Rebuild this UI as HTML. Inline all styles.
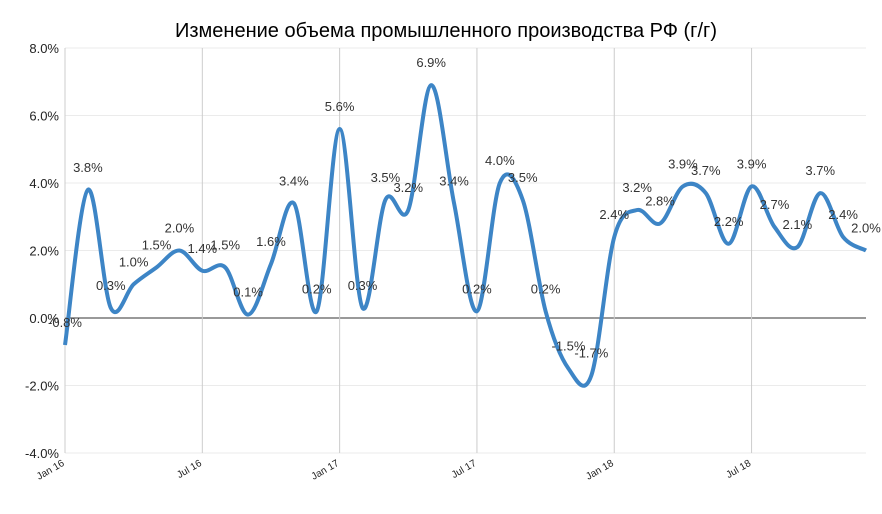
<!DOCTYPE html>
<html><head><meta charset="utf-8"><style>
body{margin:0;background:#fff;}
svg{display:block;font-family:"Liberation Sans",Arial,sans-serif;}
</style></head><body>
<svg id="chart" width="882" height="514" viewBox="0 0 882 514">
<text x="446" y="37" text-anchor="middle" font-size="20" fill="#000">Изменение объема промышленного производства РФ (г/г)</text>
<g id="grid"></g><g id="axes"></g><g id="series"></g><g id="labels"></g>
</svg>
<script>
const months = ["Jan 16","Feb 16","Mar 16","Apr 16","May 16","Jun 16","Jul 16","Aug 16","Sep 16","Oct 16","Nov 16","Dec 16","Jan 17","Feb 17","Mar 17","Apr 17","May 17","Jun 17","Jul 17","Aug 17","Sep 17","Oct 17","Nov 17","Dec 17","Jan 18","Feb 18","Mar 18","Apr 18","May 18","Jun 18","Jul 18","Aug 18","Sep 18","Oct 18","Nov 18","Dec 18"];
const values = [-0.8,3.8,0.3,1.0,1.5,2.0,1.4,1.5,0.1,1.6,3.4,0.2,5.6,0.3,3.5,3.2,6.9,3.4,0.2,4.0,3.5,0.2,-1.5,-1.7,2.4,3.2,2.8,3.9,3.7,2.2,3.9,2.7,2.1,3.7,2.4,2.0];
const yTicks = [-4,-2,0,2,4,6,8];
const xTickLabels = ["Jan 16","Jul 16","Jan 17","Jul 17","Jan 18","Jul 18"];

const NS="http://www.w3.org/2000/svg";
const x0=65,x1=866,yTop=48,yBot=453,yMin=-4,yMax=8;
const xs=i=>x0+(x1-x0)*i/(months.length-1);
const ys=v=>yBot-(v-yMin)/(yMax-yMin)*(yBot-yTop);
function mk(tag,attrs,parent){const e=document.createElementNS(NS,tag);for(const k in attrs)e.setAttribute(k,attrs[k]);parent.appendChild(e);return e;}
const grid=document.getElementById('grid'),axes=document.getElementById('axes'),series=document.getElementById('series'),labels=document.getElementById('labels');

yTicks.forEach(t=>{
  const l=mk('line',{x1:x0,x2:x1,y1:ys(t),y2:ys(t),stroke:t===0?'#333':'#ebebeb','stroke-width':1},grid);
  
  
  const tx=mk('text',{x:59,y:ys(t)+5,'text-anchor':'end','font-size':13,fill:'#222'},axes);
  
  
  tx.textContent=t.toFixed(1)+'%';
});
xTickLabels.forEach(lbl=>{
  const i=months.indexOf(lbl);const x=xs(i);
  const l=mk('line',{x1:x,x2:x,y1:yTop,y2:yBot,stroke:'#cccccc','stroke-width':1},grid);
  
  
  const tx=mk('text',{x:x,y:yBot+12,'text-anchor':'end','font-size':10,fill:'#222',transform:`rotate(-30 ${x} ${yBot+12})`},axes);
  
  
  tx.textContent=lbl;
});

const pts=values.map((v,i)=>[xs(i),ys(v)]);
let d=`M${pts[0][0]},${pts[0][1]}`;
for(let i=0;i<pts.length-1;i++){
  const p0=pts[Math.max(i-1,0)],p1=pts[i],p2=pts[i+1],p3=pts[Math.min(i+2,pts.length-1)];
  const c1=[p1[0]+(p2[0]-p0[0])/6,p1[1]+(p2[1]-p0[1])/6];
  const c2=[p2[0]-(p3[0]-p1[0])/6,p2[1]-(p3[1]-p1[1])/6];
  d+=` C${c1[0]},${c1[1]} ${c2[0]},${c2[1]} ${p2[0]},${p2[1]}`;
}
const path=mk('path',{d:d,fill:'none',stroke:'#3d85c6','stroke-width':4,'stroke-linejoin':'round'},series);



values.forEach((v,i)=>{
  const t=mk('text',{x:xs(i),y:ys(v)-18,'text-anchor':'middle','font-size':13,fill:'#333'},labels);
  
  
  t.textContent=v.toFixed(1)+'%';
});
</script>
</body></html>
